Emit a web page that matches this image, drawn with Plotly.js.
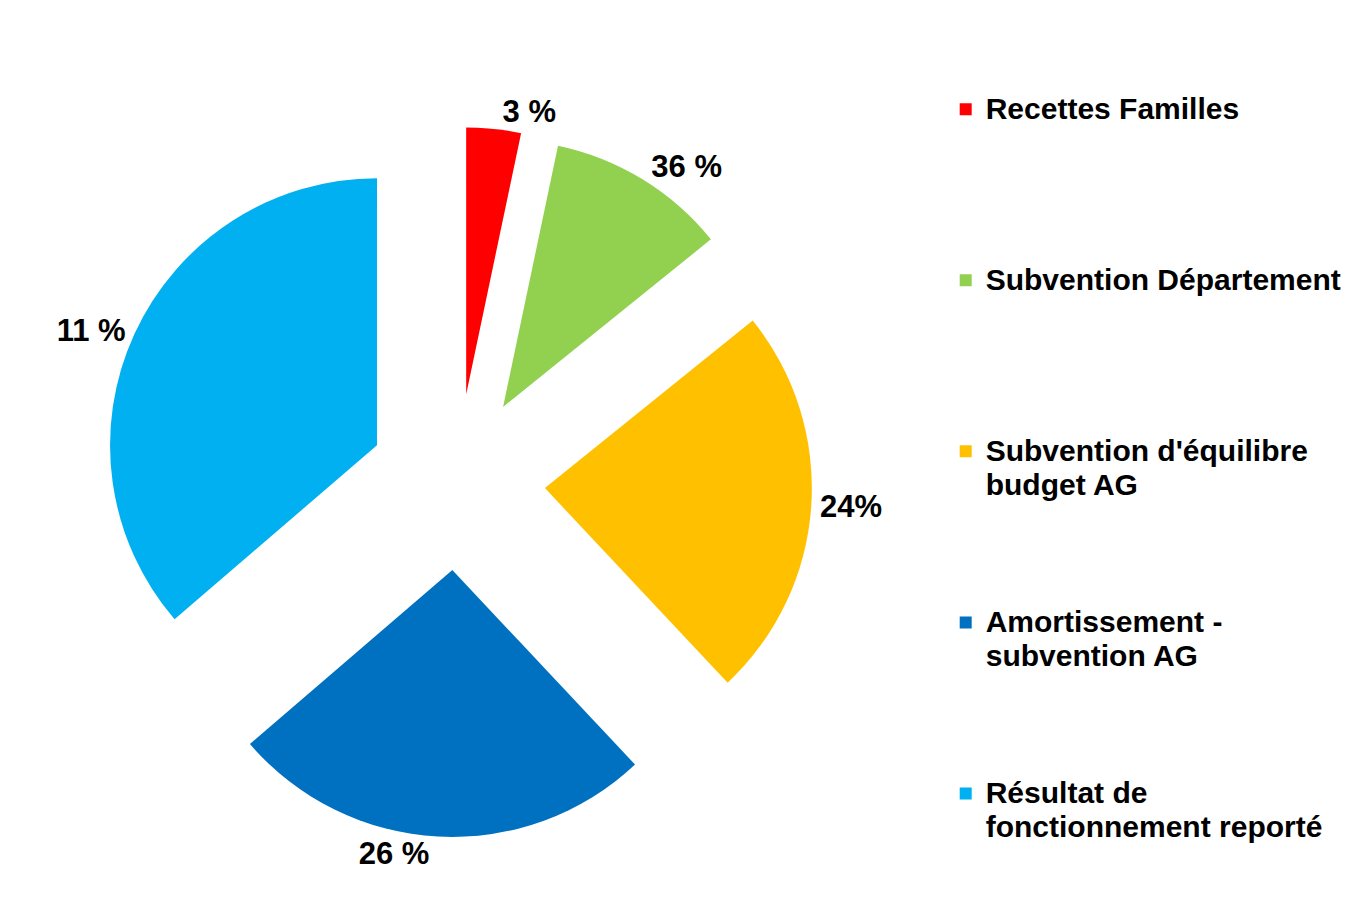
<!DOCTYPE html>
<html>
<head>
<meta charset="utf-8">
<script src="https://cdn.plot.ly/plotly-3.0.1.min.js"></script>
<style>html,body{margin:0;padding:0;background:#fff;}#chart{width:1351px;height:915px;}</style>
</head>
<body>
<div id="chart"></div>
<script>
// Data
var categories = ["Recettes Familles", "Subvention Département", "Subvention d'équilibre budget AG", "Amortissement - subvention AG", "Résultat de fonctionnement reporté"];
var legendLines = [["Recettes Familles"], ["Subvention Département"], ["Subvention d'équilibre", "budget AG"], ["Amortissement -", "subvention AG"], ["Résultat de", "fonctionnement reporté"]];
var values = [3.3, 10.9, 23.8, 25.7, 36.3];
var valueLabels = ["3 %", "36 %", "24%", "26 %", "11 %"];
var colors = ["#FF0000", "#92D050", "#FFC000", "#0070C0", "#00B0F0"];

var LINES_PER_ITEM = 5;
var legendText = legendLines.map(function (lines, i) {
  var parts = lines.map(function (l) { return '<span style="font-size:30px">' + l + '</span>'; });
  if (i < legendLines.length - 1) {
    while (parts.length < LINES_PER_ITEM) parts.push('\u00a0');
  }
  return parts.join('<br>');
});

var trace = {
  type: 'pie',
  labels: legendText,
  values: values,
  text: valueLabels,
  textinfo: 'text',
  textposition: 'outside',
  outsidetextfont: {family: 'Liberation Sans, Arial, sans-serif', size: 31, color: '#000000', weight: 'bold'},
  marker: {colors: colors, line: {width: 0}},
  sort: false,
  direction: 'clockwise',
  rotation: 0,
  pull: [0.33, 0.33, 0.33, 0.33, 0.33],
  hoverinfo: 'none',
  domain: {x: [0.0755, 0.6011], y: [0.0852, 0.8612]}
};

var layout = {
  width: 1351,
  height: 915,
  margin: {l: 0, r: 0, t: 0, b: 0},
  paper_bgcolor: '#ffffff',
  plot_bgcolor: '#ffffff',
  showlegend: true,
  legend: {
    x: 0.70, xanchor: 'left',
    y: 0.906, yanchor: 'top',
    valign: 'top',
    font: {family: 'Liberation Sans, Arial, sans-serif', size: 25.85, color: '#000000', weight: 'bold'},
    bgcolor: 'rgba(0,0,0,0)',
    borderwidth: 0
  }
};

Plotly.newPlot('chart', [trace], layout, {displayModeBar: false, staticPlot: true});
</script>
</body>
</html>
